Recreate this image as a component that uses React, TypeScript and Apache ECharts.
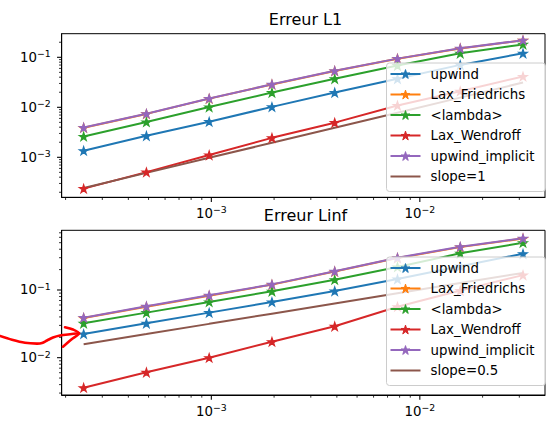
import React, { useEffect, useRef } from 'react';
import * as echarts from 'echarts';

const FONT = 'DejaVu Sans';

// step sizes (x values)
const dx = [2.44140625e-4, 4.8828125e-4, 9.765625e-4, 1.953125e-3, 3.90625e-3, 7.8125e-3, 1.5625e-2, 3.125e-2];

const names = ['upwind', 'Lax_Friedrichs', '<lambda>', 'Lax_Wendroff', 'upwind_implicit'];
const colors = ['#1f77b4', '#ff7f0e', '#2ca02c', '#d62728', '#9467bd', '#8c564b'];

// Erreur L1
const l1Upwind = [1.355e-3, 2.69e-3, 5.16e-3, 1.02e-2, 1.97e-2, 3.72e-2, 7.05e-2, 0.12];
const l1LaxFriedrichs = [3.9e-3, 7.38e-3, 1.49e-2, 2.86e-2, 5.33e-2, 9.35e-2, 0.15, 0.218];
const l1Lambda = [2.61e-3, 5.08e-3, 1.01e-2, 1.97e-2, 3.72e-2, 6.84e-2, 0.12, 0.181];
const l1LaxWendroff = [2.36e-4, 5.05e-4, 1.11e-3, 2.45e-3, 4.93e-3, 1.09e-2, 2.1e-2, 4.14e-2];
const l1UpwindImplicit = [3.93e-3, 7.43e-3, 1.5e-2, 2.88e-2, 5.36e-2, 9.41e-2, 0.151, 0.22];
const l1Slope = [2.44e-4, 4.88e-4, 9.77e-4, 1.95e-3, 3.91e-3, 7.81e-3, 1.56e-2, 3.13e-2];

// Erreur Linf
const linfUpwind = [0.0224, 0.0322, 0.0463, 0.0665, 0.0966, 0.145, 0.225, 0.343];
const linfLaxFriedrichs = [0.0385, 0.0567, 0.0825, 0.12, 0.187, 0.296, 0.43, 0.575];
const linfLambda = [0.0322, 0.0463, 0.0665, 0.0957, 0.142, 0.219, 0.348, 0.5];
const linfLaxWendroff = [3.6e-3, 6.08e-3, 0.01, 0.0172, 0.0291, 0.0566, 0.098, 0.166];
const linfUpwindImplicit = [0.039, 0.0574, 0.0835, 0.121, 0.189, 0.3, 0.436, 0.58];
const linfSlope = [0.0158, 0.0223, 0.0316, 0.0447, 0.0632, 0.0894, 0.1264, 0.1788];

const titles = ['Erreur L1', 'Erreur Linf'];
const slopeNames = ['slope=1', 'slope=0.5'];

// axis extents
const xRange = [1.916e-4, 0.03984];
const yRanges = [
  [1.585e-4, 0.2965],
  [2.81e-3, 0.762],
];

const STAR =
  'path://M0,-10L2.245,-3.09L9.511,-3.09L3.633,1.18L5.878,8.09L0,3.82L-5.878,8.09L-3.633,1.18L-9.511,-3.09L-2.245,-3.09Z';

const grids = [
  { left: 61.7, top: 33.7, width: 487.5, height: 163.6 },
  { left: 61.7, top: 230.3, width: 487.5, height: 164.7 },
];

function logTicks(min: number, max: number) {
  const out: number[][] = [];
  for (let k = Math.floor(Math.log10(min)); k <= Math.ceil(Math.log10(max)); k++) {
    for (let m = 1; m <= 9; m++) {
      const v = m * Math.pow(10, k);
      if (v > min * 1.0001 && v < max * 0.9999) out.push([v, m === 1 ? 1 : 0]);
    }
  }
  return out;
}

function fmt(v: number) {
  const e = Math.log10(v);
  const r = Math.round(e);
  if (Math.abs(e - r) > 1e-6) return '';
  return `{b|10}{s|\u2212${-r}}`;
}

const rich = {
  b: { fontSize: 13.33, fontFamily: FONT, color: '#000' },
  s: { fontSize: 9.33, fontFamily: FONT, color: '#000', padding: [0, 0, 7, 0] },
};

function tickSeries(gi: number, axis: 'x' | 'y') {
  const [ymin, ymax] = yRanges[gi];
  const list = axis === 'x' ? logTicks(xRange[0], xRange[1]) : logTicks(ymin, ymax);
  const xRef = xRange[0] * 2;
  const yRef = ymin * 2;
  return {
    type: 'custom',
    xAxisIndex: gi,
    yAxisIndex: gi,
    silent: true,
    clip: false,
    z: 5,
    data: list.map((t) => (axis === 'x' ? [t[0], yRef, t[1]] : [xRef, t[0], t[1]])),
    renderItem: (params: any, api: any) => {
      const cs = params.coordSys;
      const p = api.coord([api.value(0), api.value(1)]);
      const major = api.value(2) === 1;
      const len = major ? 4.67 : 2.67;
      const lw = major ? 1.07 : 0.8;
      if (axis === 'x') {
        const yb = cs.y + cs.height;
        return {
          type: 'line',
          shape: { x1: p[0], y1: yb, x2: p[0], y2: yb + len },
          style: { stroke: '#000', lineWidth: lw },
        };
      }
      const xl = cs.x;
      return {
        type: 'line',
        shape: { x1: xl - len, y1: p[1], x2: xl, y2: p[1] },
        style: { stroke: '#000', lineWidth: lw },
      };
    },
  };
}

function lineSeries(gi: number, name: string, values: number[], color: string, marker: boolean) {
  return {
    type: 'line',
    name,
    xAxisIndex: gi,
    yAxisIndex: gi,
    data: dx.map((x, i) => [x, values[i]]),
    symbol: marker ? STAR : 'none',
    symbolSize: 8.5,
    symbolKeepAspect: true,
    showSymbol: marker,
    lineStyle: { color, width: 2 },
    itemStyle: { color, borderColor: color, borderWidth: 1.2, borderJoin: 'miter' },
    emphasis: { disabled: true },
    z: 3,
  };
}

const l1Sets = [l1Upwind, l1LaxFriedrichs, l1Lambda, l1LaxWendroff, l1UpwindImplicit];
const linfSets = [linfUpwind, linfLaxFriedrichs, linfLambda, linfLaxWendroff, linfUpwindImplicit];
const slopeSets = [l1Slope, linfSlope];

function buildOption() {
  const series: any[] = [];
  [l1Sets, linfSets].forEach((sets, gi) => {
    sets.forEach((vals, i) => series.push(lineSeries(gi, names[i], vals, colors[i], true)));
    series.push(lineSeries(gi, slopeNames[gi], slopeSets[gi], colors[5], false));
    series.push(tickSeries(gi, 'x'));
    series.push(tickSeries(gi, 'y'));
  });

  const legendTops = [63, 257];
  const legends = legendTops.map((top, gi) => ({
    data: [...names, { name: slopeNames[gi], itemStyle: { opacity: 0 } }],
    orient: 'vertical',
    left: 386.5,
    top,
    itemWidth: 30,
    itemHeight: 11,
    itemGap: 6.5,
    selectedMode: false,
    padding: [4, 11, 8, 3],
    backgroundColor: 'rgba(255,255,255,0.8)',
    borderColor: '#cccccc',
    borderWidth: 1,
    borderRadius: 3,
    itemStyle: { borderWidth: 1 },
    textStyle: { fontSize: 13.33, fontFamily: FONT, color: '#000', lineHeight: 14, padding: [0, 0, 0, 5] },
  }));

  return {
    animation: false,
    grid: grids.map((g) => ({ ...g, show: true, borderColor: '#000', borderWidth: 1, backgroundColor: 'transparent' })),
    xAxis: grids.map((_, gi) => ({
      type: 'log',
      logBase: 10,
      gridIndex: gi,
      min: xRange[0],
      max: xRange[1],
      axisLine: { show: true, lineStyle: { color: '#000', width: 1 } },
      axisTick: { show: false },
      splitLine: { show: false },
      axisLabel: { formatter: fmt, rich, margin: 8, color: '#000' },
    })),
    yAxis: grids.map((_, gi) => ({
      type: 'log',
      logBase: 10,
      gridIndex: gi,
      min: yRanges[gi][0],
      max: yRanges[gi][1],
      axisLine: { show: true, lineStyle: { color: '#000', width: 1 } },
      axisTick: { show: false },
      splitLine: { show: false },
      axisLabel: { formatter: fmt, rich, margin: 11, color: '#000' },
    })),
    legend: legends,
    series,
    graphic: [
      {
        type: 'text',
        x: 305.5,
        y: 19.5,
        style: { text: titles[0], fontSize: 16, fontFamily: FONT, fill: '#000', align: 'center', verticalAlign: 'middle' },
      },
      {
        type: 'text',
        x: 305.5,
        y: 215,
        z: 10,
        style: { text: titles[1], fontSize: 16, fontFamily: FONT, fill: '#000', align: 'center', verticalAlign: 'middle' },
      },
      {
        type: 'polyline',
        z: 100,
        shape: {
          points: [[0, 336], [12, 339.8], [25, 342.8], [37, 343.6], [42, 343], [47, 340.5], [53, 337.5], [60, 335.5], [70, 334.2], [79, 333.3]],
          smooth: 0.3,
        },
        style: { stroke: '#ff0000', lineWidth: 2.6, fill: null, lineCap: 'round', lineJoin: 'round' },
      },
      {
        type: 'polyline',
        z: 100,
        shape: { points: [[65, 327.3], [73, 329.5], [79, 333.3], [72, 339], [63, 346.7]], smooth: 0.3 },
        style: { stroke: '#ff0000', lineWidth: 2.6, fill: null, lineCap: 'round', lineJoin: 'round' },
      },
    ],
  };
}

export default function App() {
  const ref = useRef<HTMLDivElement>(null);
  useEffect(() => {
    const chart = echarts.init(ref.current!, null, { renderer: 'svg' });
    chart.setOption(buildOption() as any);
    return () => chart.dispose();
  }, []);
  return (
    <div
      ref={ref}
      style={{ position: 'absolute', left: 0, top: 0, width: 548, height: 426, background: '#fff' }}
    />
  );
}
